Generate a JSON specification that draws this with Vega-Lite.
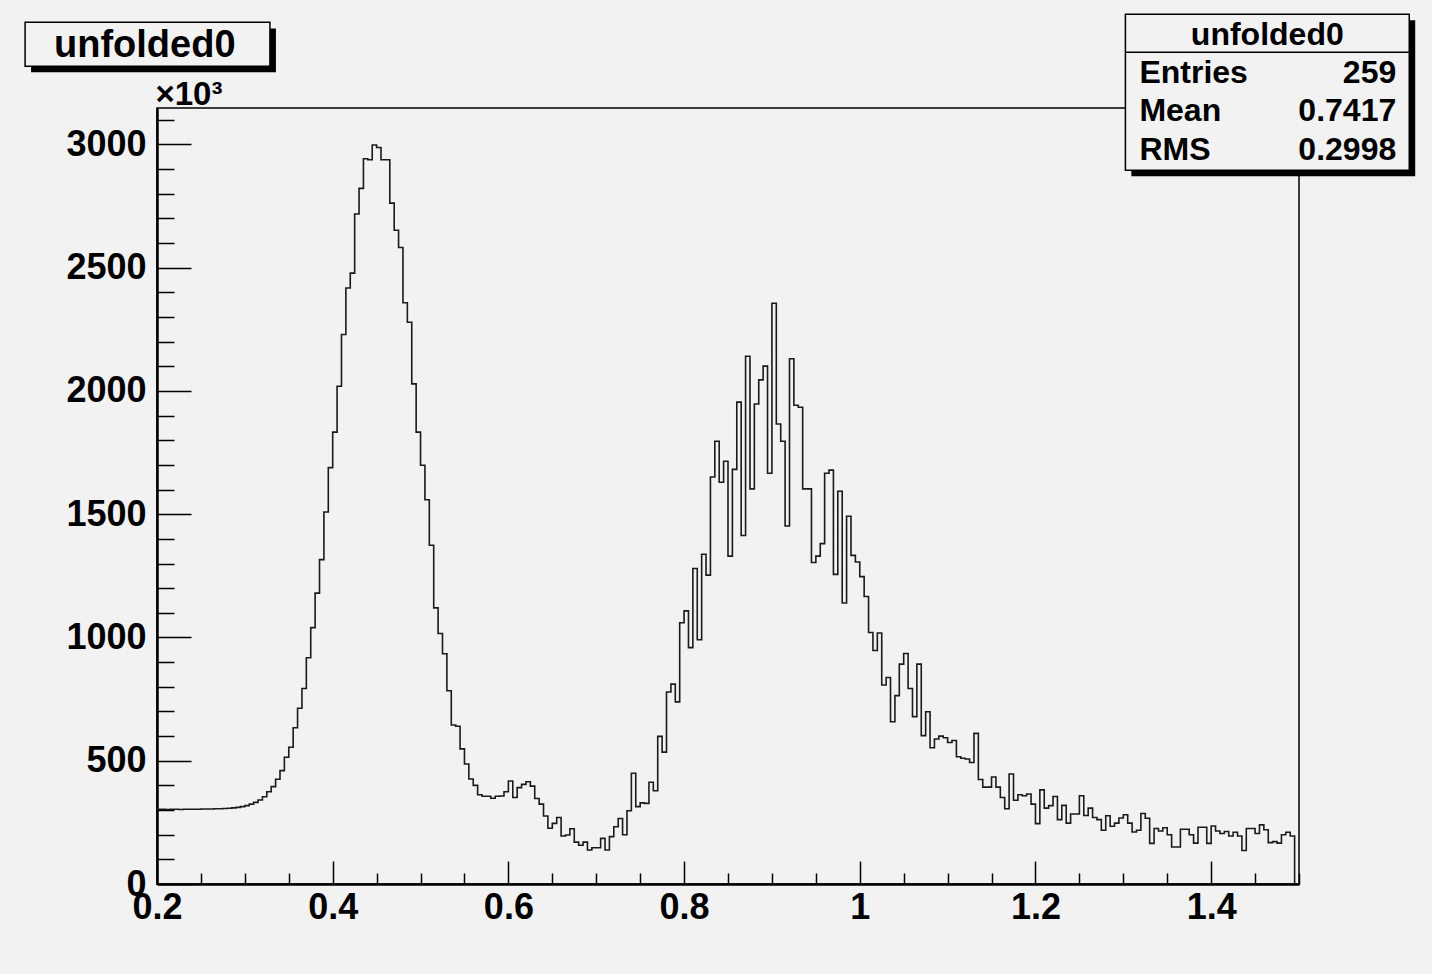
{
  "$schema": "https://vega.github.io/schema/vega-lite/v6.json",
  "width": 1142,
  "height": 776,
  "autosize": {"type": "none"},
  "padding": {"left": 157, "top": 108, "right": 133, "bottom": 90},
  "background": "#f2f2f2",
  "config": {
    "view": {"stroke": "#000000", "strokeWidth": 1.5, "fill": "#f2f2f2"},
    "font": "Liberation Sans"
  },
  "title": {
    "text": "unfolded0",
    "anchor": "start",
    "frame": "group",
    "orient": "top",
    "offset": 0,
    "baseline": "middle",
    "dx": -103,
    "dy": 70,
    "font": "Liberation Sans",
    "fontSize": 38,
    "fontWeight": "bold",
    "color": "#000000"
  },
  "datasets": {
    "hist": [
      {"x":0.2,"count":303},{"x":0.205,"count":303},{"x":0.21,"count":302},{"x":0.215,"count":303},{"x":0.22,"count":303},
      {"x":0.225,"count":302},{"x":0.23,"count":303},{"x":0.235,"count":303},{"x":0.24,"count":303},{"x":0.245,"count":303},
      {"x":0.25,"count":304},{"x":0.255,"count":304},{"x":0.26,"count":304},{"x":0.265,"count":305},{"x":0.27,"count":305},
      {"x":0.275,"count":306},{"x":0.28,"count":307},{"x":0.285,"count":309},{"x":0.29,"count":311},{"x":0.295,"count":314},
      {"x":0.3,"count":318},{"x":0.305,"count":324},{"x":0.31,"count":331},{"x":0.315,"count":341},{"x":0.32,"count":354},
      {"x":0.325,"count":374},{"x":0.33,"count":395},{"x":0.335,"count":425},{"x":0.34,"count":460},{"x":0.345,"count":514},
      {"x":0.35,"count":555},{"x":0.355,"count":634},{"x":0.36,"count":713},{"x":0.365,"count":793},{"x":0.37,"count":918},
      {"x":0.375,"count":1040},{"x":0.38,"count":1180},{"x":0.385,"count":1316},{"x":0.39,"count":1509},{"x":0.395,"count":1689},
      {"x":0.4,"count":1833},{"x":0.405,"count":2019},{"x":0.41,"count":2229},{"x":0.415,"count":2418},{"x":0.42,"count":2478},
      {"x":0.425,"count":2718},{"x":0.43,"count":2822},{"x":0.435,"count":2942},{"x":0.44,"count":2938},{"x":0.445,"count":2998},
      {"x":0.45,"count":2988},{"x":0.455,"count":2938},{"x":0.46,"count":2938},{"x":0.465,"count":2762},{"x":0.47,"count":2652},
      {"x":0.475,"count":2582},{"x":0.48,"count":2358},{"x":0.485,"count":2279},{"x":0.49,"count":2029},{"x":0.495,"count":1833},
      {"x":0.5,"count":1699},{"x":0.505,"count":1559},{"x":0.51,"count":1374},{"x":0.515,"count":1120},{"x":0.52,"count":1016},
      {"x":0.525,"count":934},{"x":0.53,"count":784},{"x":0.535,"count":645},{"x":0.54,"count":640},{"x":0.545,"count":548},
      {"x":0.55,"count":487},{"x":0.555,"count":426},{"x":0.56,"count":400},{"x":0.565,"count":362},{"x":0.57,"count":356},
      {"x":0.575,"count":356},{"x":0.58,"count":348},{"x":0.585,"count":356},{"x":0.59,"count":357},{"x":0.595,"count":374},
      {"x":0.6,"count":418},{"x":0.605,"count":351},{"x":0.61,"count":391},{"x":0.615,"count":404},{"x":0.62,"count":415},
      {"x":0.625,"count":397},{"x":0.63,"count":347},{"x":0.635,"count":324},{"x":0.64,"count":276},{"x":0.645,"count":226},
      {"x":0.65,"count":246},{"x":0.655,"count":270},{"x":0.66,"count":195},{"x":0.665,"count":199},{"x":0.67,"count":224},
      {"x":0.675,"count":170},{"x":0.68,"count":157},{"x":0.685,"count":170},{"x":0.69,"count":138},{"x":0.695,"count":147},
      {"x":0.7,"count":147},{"x":0.705,"count":185},{"x":0.71,"count":138},{"x":0.715,"count":192},{"x":0.72,"count":232},
      {"x":0.725,"count":266},{"x":0.73,"count":200},{"x":0.735,"count":297},{"x":0.74,"count":449},{"x":0.745,"count":314},
      {"x":0.75,"count":329},{"x":0.755,"count":327},{"x":0.76,"count":413},{"x":0.765,"count":378},{"x":0.77,"count":599},
      {"x":0.775,"count":535},{"x":0.78,"count":779},{"x":0.785,"count":811},{"x":0.79,"count":739},{"x":0.795,"count":1060},
      {"x":0.8,"count":1108},{"x":0.805,"count":959},{"x":0.81,"count":1280},{"x":0.815,"count":991},{"x":0.82,"count":1338},
      {"x":0.825,"count":1253},{"x":0.83,"count":1651},{"x":0.835,"count":1796},{"x":0.84,"count":1630},{"x":0.845,"count":1715},
      {"x":0.85,"count":1330},{"x":0.855,"count":1682},{"x":0.86,"count":1955},{"x":0.865,"count":1414},{"x":0.87,"count":2141},
      {"x":0.875,"count":1603},{"x":0.88,"count":1947},{"x":0.885,"count":2045},{"x":0.89,"count":2101},{"x":0.895,"count":1666},
      {"x":0.9,"count":2356},{"x":0.905,"count":1866},{"x":0.91,"count":1796},{"x":0.915,"count":1452},{"x":0.92,"count":2131},
      {"x":0.925,"count":1942},{"x":0.93,"count":1934},{"x":0.935,"count":1603},{"x":0.94,"count":1603},{"x":0.945,"count":1304},
      {"x":0.95,"count":1330},{"x":0.955,"count":1381},{"x":0.96,"count":1666},{"x":0.965,"count":1679},{"x":0.97,"count":1256},
      {"x":0.975,"count":1593},{"x":0.98,"count":1140},{"x":0.985,"count":1492},{"x":0.99,"count":1333},{"x":0.995,"count":1306},
      {"x":1.0,"count":1247},{"x":1.005,"count":1166},{"x":1.01,"count":1020},{"x":1.015,"count":947},{"x":1.02,"count":1018},
      {"x":1.025,"count":807},{"x":1.03,"count":838},{"x":1.035,"count":658},{"x":1.04,"count":764},{"x":1.045,"count":892},
      {"x":1.05,"count":935},{"x":1.055,"count":793},{"x":1.06,"count":679},{"x":1.065,"count":892},{"x":1.07,"count":602},
      {"x":1.075,"count":699},{"x":1.08,"count":553},{"x":1.085,"count":588},{"x":1.09,"count":600},{"x":1.095,"count":593},
      {"x":1.1,"count":574},{"x":1.105,"count":582},{"x":1.11,"count":516},{"x":1.115,"count":510},{"x":1.12,"count":507},
      {"x":1.125,"count":493},{"x":1.13,"count":611},{"x":1.135,"count":424},{"x":1.14,"count":393},{"x":1.145,"count":393},
      {"x":1.15,"count":434},{"x":1.155,"count":393},{"x":1.16,"count":351},{"x":1.165,"count":305},{"x":1.17,"count":446},
      {"x":1.175,"count":340},{"x":1.18,"count":362},{"x":1.185,"count":358},{"x":1.19,"count":365},{"x":1.195,"count":324},
      {"x":1.2,"count":245},{"x":1.205,"count":382},{"x":1.21,"count":308},{"x":1.215,"count":318},{"x":1.22,"count":355},
      {"x":1.225,"count":261},{"x":1.23,"count":319},{"x":1.235,"count":247},{"x":1.24,"count":284},{"x":1.245,"count":284},
      {"x":1.25,"count":358},{"x":1.255,"count":278},{"x":1.26,"count":308},{"x":1.265,"count":270},{"x":1.27,"count":261},
      {"x":1.275,"count":218},{"x":1.28,"count":277},{"x":1.285,"count":234},{"x":1.29,"count":247},{"x":1.295,"count":268},
      {"x":1.3,"count":281},{"x":1.305,"count":247},{"x":1.31,"count":211},{"x":1.315,"count":218},{"x":1.32,"count":286},
      {"x":1.325,"count":267},{"x":1.33,"count":165},{"x":1.335,"count":225},{"x":1.34,"count":215},{"x":1.345,"count":228},
      {"x":1.35,"count":200},{"x":1.355,"count":150},{"x":1.36,"count":150},{"x":1.365,"count":222},{"x":1.37,"count":222},
      {"x":1.375,"count":200},{"x":1.38,"count":166},{"x":1.385,"count":230},{"x":1.39,"count":230},{"x":1.395,"count":165},
      {"x":1.4,"count":235},{"x":1.405,"count":215},{"x":1.41,"count":205},{"x":1.415,"count":213},{"x":1.42,"count":195},
      {"x":1.425,"count":210},{"x":1.43,"count":195},{"x":1.435,"count":136},{"x":1.44,"count":225},{"x":1.445,"count":225},
      {"x":1.45,"count":205},{"x":1.455,"count":240},{"x":1.46,"count":220},{"x":1.465,"count":168},{"x":1.47,"count":172},
      {"x":1.475,"count":166},{"x":1.48,"count":200},{"x":1.485,"count":210},{"x":1.49,"count":195},{"x":1.495,"count":0}
    ]
  },
  "layer": [
    {
      "data": {"name": "hist"},
      "mark": {"type": "line", "interpolate": "step-after", "color": "#1a1a1a", "strokeWidth": 1.6},
      "encoding": {
        "x": {
          "field": "x", "type": "quantitative",
          "scale": {"domain": [0.2, 1.5], "nice": false, "zero": false},
          "axis": {
            "title": null,
            "values": [0.2,0.25,0.3,0.35,0.4,0.45,0.5,0.55,0.6,0.65,0.7,0.75,0.8,0.85,0.9,0.95,1.0,1.05,1.1,1.15,1.2,1.25,1.3,1.35,1.4,1.45,1.5],
            "tickCount": 60,
            "format": "~g",
            "labelExpr": "abs(datum.value*5 - round(datum.value*5)) < 1e-6 ? datum.label : ''",
            "tickSize": {"condition": {"test": "abs(datum.value*5 - round(datum.value*5)) < 1e-6", "value": -23}, "value": -11},
            "tickColor": "#000000", "tickWidth": 1.5,
            "domainColor": "#000000", "domainWidth": 2.5,
            "labelFont": "Liberation Sans", "labelFontSize": 36, "labelFontWeight": "bold", "labelColor": "#000000",
            "labelPadding": 29, "labelFlush": false, "labelOverlap": false, "grid": false
          }
        },
        "y": {
          "field": "count", "type": "quantitative",
          "scale": {"domain": [0, 3148], "nice": false, "zero": true},
          "axis": {
            "title": "×10³", "titleAngle": 0, "titleAlign": "left", "titleBaseline": "alphabetic",
            "titleX": -2, "titleY": -4, "titleFont": "Liberation Sans", "titleFontSize": 33, "titleFontWeight": "bold", "titleColor": "#000000",
            "values": [0,100,200,300,400,500,600,700,800,900,1000,1100,1200,1300,1400,1500,1600,1700,1800,1900,2000,2100,2200,2300,2400,2500,2600,2700,2800,2900,3000,3100],
            "tickCount": 60,
            "format": "d",
            "labelExpr": "datum.value % 500 === 0 ? datum.label : ''",
            "tickSize": {"condition": {"test": "datum.value % 500 === 0", "value": -34}, "value": -17},
            "tickColor": "#000000", "tickWidth": 1.5,
            "domainColor": "#000000", "domainWidth": 2.5,
            "labelFont": "Liberation Sans", "labelFontSize": 36, "labelFontWeight": "bold", "labelColor": "#000000",
            "labelPadding": 45, "labelFlush": false, "labelOverlap": false, "grid": false
          }
        }
      }
    },
    {
      "data": {"values": [{}]},
      "mark": {"type": "rect", "color": "#000000"},
      "encoding": {"x": {"datum": 0.05666}, "x2": {"datum": 0.33538}, "y": {"datum": 3471}, "y2": {"datum": 3293}}
    },
    {
      "data": {"values": [{}]},
      "mark": {"type": "rect", "fill": "#f2f2f2", "stroke": "#000000", "strokeWidth": 1.5},
      "encoding": {"x": {"datum": 0.04983}, "x2": {"datum": 0.32856}, "y": {"datum": 3496}, "y2": {"datum": 3317}}
    },
    {
      "data": {"values": [{}]},
      "mark": {"type": "rect", "color": "#000000"},
      "encoding": {"x": {"datum": 1.3092}, "x2": {"datum": 1.6323}, "y": {"datum": 3504}, "y2": {"datum": 2871}}
    },
    {
      "data": {"values": [{}]},
      "mark": {"type": "rect", "fill": "#f2f2f2", "stroke": "#000000", "strokeWidth": 1.5},
      "encoding": {"x": {"datum": 1.3024}, "x2": {"datum": 1.6255}, "y": {"datum": 3528}, "y2": {"datum": 2895}}
    },
    {
      "data": {"values": [{}]},
      "mark": {"type": "rule", "color": "#000000", "strokeWidth": 1.5},
      "encoding": {"x": {"datum": 1.3024}, "x2": {"datum": 1.6255}, "y": {"datum": 3374}}
    },
    {
      "data": {"values": [{"label": "unfolded0"}]},
      "mark": {"type": "text", "align": "center", "baseline": "middle", "font": "Liberation Sans", "fontSize": 32, "fontWeight": "bold", "color": "#000000"},
      "encoding": {"x": {"datum": 1.4639}, "y": {"datum": 3443}, "text": {"field": "label"}}
    },
    {
      "data": {"values": [{"label": "Entries", "value": "259"}]},
      "layer": [
        {"mark": {"type": "text", "align": "left", "baseline": "middle", "font": "Liberation Sans", "fontSize": 32, "fontWeight": "bold", "color": "#000000"},
         "encoding": {"x": {"datum": 1.3183}, "y": {"datum": 3289}, "text": {"field": "label"}}},
        {"mark": {"type": "text", "align": "right", "baseline": "middle", "font": "Liberation Sans", "fontSize": 32, "fontWeight": "bold", "color": "#000000"},
         "encoding": {"x": {"datum": 1.6107}, "y": {"datum": 3289}, "text": {"field": "value"}}}
      ]
    },
    {
      "data": {"values": [{"label": "Mean", "value": "0.7417"}]},
      "layer": [
        {"mark": {"type": "text", "align": "left", "baseline": "middle", "font": "Liberation Sans", "fontSize": 32, "fontWeight": "bold", "color": "#000000"},
         "encoding": {"x": {"datum": 1.3183}, "y": {"datum": 3135}, "text": {"field": "label"}}},
        {"mark": {"type": "text", "align": "right", "baseline": "middle", "font": "Liberation Sans", "fontSize": 32, "fontWeight": "bold", "color": "#000000"},
         "encoding": {"x": {"datum": 1.6107}, "y": {"datum": 3135}, "text": {"field": "value"}}}
      ]
    },
    {
      "data": {"values": [{"label": "RMS", "value": "0.2998"}]},
      "layer": [
        {"mark": {"type": "text", "align": "left", "baseline": "middle", "font": "Liberation Sans", "fontSize": 32, "fontWeight": "bold", "color": "#000000"},
         "encoding": {"x": {"datum": 1.3183}, "y": {"datum": 2976}, "text": {"field": "label"}}},
        {"mark": {"type": "text", "align": "right", "baseline": "middle", "font": "Liberation Sans", "fontSize": 32, "fontWeight": "bold", "color": "#000000"},
         "encoding": {"x": {"datum": 1.6107}, "y": {"datum": 2976}, "text": {"field": "value"}}}
      ]
    }
  ]
}
